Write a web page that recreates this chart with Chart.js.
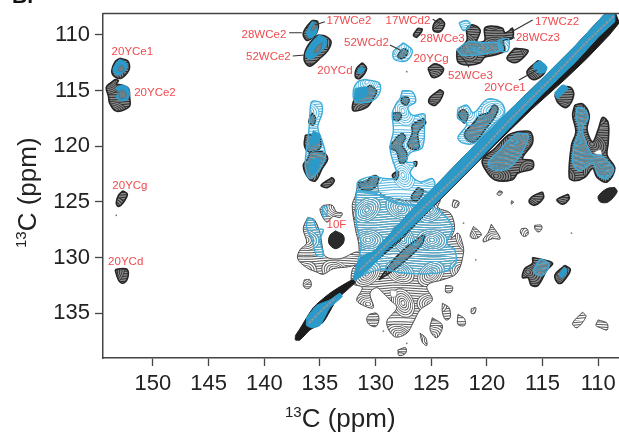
<!DOCTYPE html>
<html>
<head>
<meta charset="utf-8">
<title>13C-13C spectrum</title>
<script src="https://cdn.jsdelivr.net/npm/chart.js@4/dist/chart.umd.js"></script>
<style>
  html, body { margin: 0; padding: 0; background: #fff; overflow: hidden; }
  canvas { display: block; }
</style>
</head>
<body>
<!-- 4px wider than the window: Chart.js keeps a margin for the last tick label, the plot must run to the edge -->
<canvas id="spectrumChart" width="623" height="432"></canvas>
<script>
/* ====== DATA (all contour outlines, in ppm: [x, y]) ====== */
const xTicks = [150, 145, 140, 135, 130, 125, 120, 115, 110];
const yTicks = [110, 115, 120, 125, 130, 135];

const peakLabels = ['20YCe1', '20YCe2', '20YCg', '20YCd', '28WCe2', '52WCe2', '17WCe2', '20YCd', '17WCd2',
  '52WCd2', '20YCg', '28WCe3', '52WCe3', '20YCe1', '17WCz2', '28WCz3', '10F'];
const labelX = [151.85, 149.82, 152.07, 152.45, 140.03, 139.63, 132.39, 133.65, 127.09,
  130.82, 125.02, 124.0, 121.48, 118.38, 113.7, 115.41, 133.52];
const labelY = [111.53, 115.22, 123.57, 130.4, 110.0, 111.98, 108.75, 113.24, 108.75,
  110.72, 112.16, 110.36, 113.66, 114.77, 108.84, 110.27, 127.08];

const leaders = [
  [[137.76, 109.8], [136.62, 109.8]],
  [[137.45, 111.89], [136.35, 111.8]],
  [[134.55, 108.81], [135.45, 109.1]],
  [[128.71, 110.9], [127.81, 111.35]],
  [[124.87, 108.59], [124.22, 108.95]],
  [[115.89, 108.66], [117.77, 109.71]],
  [[117.48, 110.27], [118.56, 110.18]],
  [[121.61, 112.88], [122.24, 111.98]],
  [[117.12, 114.05], [115.5, 113.15]]
];

// grey contour areas, drawn first
const centralMass = [[131.6,123.3],[130.0,122.9],[129.6,124.2],[127.8,124.8],[126.3,124.8],[125.7,124.0],[125.1,124.3],[124.2,124.8],[124.4,125.5],[123.3,126.0],[122.9,127.3],[123.2,128.3],[122.6,127.8],[122.2,128.7],[122.1,129.6],[122.7,131.4],[124.0,132.0],[125.1,132.3],[125.4,132.7],[124.9,133.8],[126.0,134.7],[126.6,135.8],[127.2,136.8],[128.3,137.1],[129.0,135.8],[128.1,134.5],[128.7,133.8],[129.3,133.2],[129.9,132.7],[130.5,133.2],[130.2,134.5],[131.1,134.3],[131.7,133.8],[131.2,132.7],[132.1,132.3],[132.1,131.1],[131.6,130.4],[131.5,128.9],[131.8,127.5],[132.1,125.3],[131.8,124.4]];
const leftArm = [[136.1,126.4],[135.5,126.6],[135.0,127.8],[134.8,128.9],[134.5,129.9],[133.2,130.1],[131.6,129.5],[131.4,130.4],[132.3,130.8],[133.8,131.0],[134.7,131.5],[135.3,131.3],[136.2,130.9],[137.0,130.1],[136.8,129.3],[136.2,128.7],[136.5,127.4]];
const greyPeaks = [
  centralMass, leftArm,
  [[134.7,125.3],[133.9,125.3],[133.5,125.9],[133.0,126.0],[133.2,126.4],[133.8,126.3],[134.4,126.8],[135.0,125.7]],
  [[136.4,132.0],[135.9,132.0],[135.8,132.6],[136.2,132.8],[136.5,132.5]],
  [[130.6,135.1],[129.9,135.0],[129.7,135.6],[130.0,136.2],[130.6,136.0],[130.8,135.5]],
  [[124.0,134.1],[123.4,134.5],[123.3,135.4],[123.7,135.6],[124.0,134.9]],
  [[124.9,135.4],[124.0,136.1],[124.5,137.2],[125.1,136.5]],
  [[126.0,136.8],[125.5,137.2],[125.4,137.9],[125.8,137.6]],
  [[128.0,138.3],[127.3,138.1],[127.3,138.6],[127.9,138.8]],
  [[122.6,135.1],[122.0,135.5],[122.0,136.1],[122.6,136.0]],
  [[121.4,134.6],[121.0,134.5],[121.1,135.0],[121.4,135.0]],
  [[123.7,132.5],[123.1,132.6],[123.2,133.1],[123.7,133.1]],
  [[123.0,124.8],[122.5,125.0],[122.7,125.5],[123.1,125.4]],
  [[121.2,127.2],[120.5,127.9],[121.0,128.3],[121.5,128.1]],
  [[119.6,127.0],[118.8,128.3],[119.5,128.3],[120.3,128.6],[120.3,128.3],[119.9,127.8]],
  [[116.9,127.4],[116.4,127.4],[116.3,127.9],[116.7,128.1],[117.0,127.7]],
  [[115.7,127.1],[115.1,127.1],[115.1,127.5],[115.4,127.7],[115.7,127.4]],
  [[111.4,134.9],[111.1,135.3],[111.9,136.3],[112.3,135.9]],
  [[110.0,135.6],[109.2,135.9],[109.2,136.5],[109.8,136.3],[110.2,136.1]],
  [[118.9,124.0],[118.6,124.1],[118.8,124.4],[119.1,124.3]],
  [[117.8,124.9],[117.6,125.0],[117.8,125.2]]
];

// dense, nearly black peaks
const blackPeaks = [
  [[153.4,114.0],[153.8,114.3],[154.2,114.7],[154.0,115.5],[153.9,116.1],[153.4,116.8],[152.8,116.8],[152.1,116.4],[152.1,115.6],[152.2,114.8],[152.8,114.5],[153.3,114.4],[153.1,114.1]],
  [[153.0,112.1],[152.3,112.3],[152.1,112.9],[152.3,113.4],[152.9,113.9],[153.5,113.7],[153.7,113.2],[153.4,112.4]],
  [[152.7,124.0],[152.3,124.3],[152.7,125.1],[153.1,125.4],[153.3,125.1],[153.1,124.4]],
  [[153.4,131.1],[153.0,131.0],[152.3,131.1],[152.3,131.9],[152.7,132.3],[153.1,132.0]],
  [[135.7,108.7],[135.2,108.8],[135.3,109.8],[136.1,110.5],[136.5,110.0],[136.3,109.4]],
  [[135.2,110.0],[134.5,110.1],[134.0,110.6],[134.3,111.4],[134.9,112.0],[135.9,112.8],[136.4,112.3],[136.3,111.4],[135.9,110.7]],
  [[131.2,112.5],[130.8,113.0],[131.4,113.9],[131.8,113.8],[131.7,113.0]],
  [[130.5,114.5],[129.9,115.0],[130.2,115.7],[130.8,116.5],[132.0,116.8],[132.0,116.0],[131.6,115.4]],
  [[135.7,117.0],[135.4,117.5],[135.6,118.1],[136.0,117.8]],
  [[136.3,119.0],[135.6,119.0],[135.0,119.3],[135.0,120.2],[136.0,120.5],[136.4,119.9]],
  [[135.9,120.5],[134.8,120.5],[134.3,121.1],[134.8,122.0],[135.4,123.1],[136.0,122.9],[136.5,121.7],[136.1,121.1]],
  [[133.9,122.8],[133.7,123.1],[134.3,123.7],[134.9,123.5]],
  [[126.2,109.4],[125.8,109.5],[126.3,110.2],[126.6,110.0]],
  [[124.2,108.5],[123.8,109.0],[124.2,109.7],[124.8,109.6],[124.7,108.9]],
  [[125.3,113.0],[124.7,112.6],[123.9,113.0],[124.2,113.6],[124.9,113.8]],
  [[124.2,114.9],[123.9,115.2],[124.6,116.3],[125.2,116.1],[125.1,115.6]],
  [[122.7,111.4],[121.8,110.5],[121.8,109.4],[121.2,109.1],[120.6,109.6],[120.9,110.6],[120.2,110.5],[120.2,109.4],[119.6,109.2],[118.6,109.4],[118.4,109.8],[118.1,109.7],[117.7,109.4],[117.7,110.3],[118.5,110.5],[118.4,111.4],[119.3,111.8],[120.2,112.0],[120.6,112.5],[121.8,112.7],[122.6,112.4]],
  [[117.5,111.2],[116.3,111.4],[116.8,112.1],[117.5,112.5],[118.2,112.1]],
  [[115.4,112.3],[114.7,112.9],[115.0,113.6],[115.9,114.0],[116.4,113.3]],
  [[113.9,115.4],[113.4,114.8],[112.5,114.7],[112.2,115.4],[112.8,116.5],[113.6,116.1]],
  [[117.3,118.7],[116.1,118.7],[115.9,119.7],[116.8,121.1],[115.9,121.3],[115.9,122.0],[117.2,122.4],[117.7,123.0],[119.3,123.0],[120.2,122.0],[120.4,121.2],[119.3,120.2],[118.1,119.0]],
  [[112.1,116.3],[111.4,116.2],[110.8,117.2],[111.0,118.5],[110.5,119.6],[110.0,118.5],[109.6,117.4],[109.1,117.9],[109.1,119.7],[109.2,120.8],[108.5,122.0],[109.2,123.2],[110.1,122.8],[110.5,122.0],[111.2,122.8],[112.1,123.1],[112.6,122.8],[112.4,119.9],[112.0,118.7],[112.3,117.2]],
  [[115.0,124.1],[114.9,124.6],[115.7,125.3],[116.2,125.0],[115.9,124.5]],
  [[112.7,124.3],[112.6,124.7],[113.2,125.2],[113.7,124.8]],
  [[115.9,130.0],[115.3,130.1],[114.1,130.5],[114.6,131.1],[115.4,132.5],[116.0,132.5],[116.3,131.8],[116.8,131.8],[116.6,131.0],[115.9,130.5]],
  [[113.0,130.7],[112.5,131.1],[113.2,132.2],[113.6,132.3],[113.9,131.6]],
  [[127.4,111.2],[127.1,111.5],[127.5,112.1],[128.0,112.0],[127.8,111.5]],
  [[127.6,115.6],[127.1,115.6],[127.0,116.0],[127.3,116.3],[127.7,116.0]],
  [[128.4,117.0],[127.8,117.0],[127.7,117.4],[128.1,117.7],[128.4,117.5]],
  [[125.7,117.5],[125.5,117.9],[126.2,118.8],[126.1,120.1],[126.6,120.3],[127.1,119.9],[126.7,118.8],[126.7,118.1]],
  [[127.6,118.8],[127.3,119.2],[127.6,119.9],[127.2,120.6],[127.3,121.4],[127.8,121.5],[128.1,120.5],[128.7,120.1],[128.1,119.2]],
  [[128.0,122.2],[128.0,122.8],[128.2,123.0],[128.5,122.6]],
  [[126.6,121.4],[126.3,121.4],[126.4,121.8]],
  [[130.0,122.6],[129.7,122.9],[130.2,123.8],[131.2,123.9],[131.6,123.3],[130.8,123.2],[130.5,122.8]],
  [[126.2,123.7],[125.7,124.0],[126.3,124.9],[126.8,124.6]],
  [[121.2,117.9],[120.6,117.2],[119.9,117.0],[119.4,116.3],[119.0,116.6],[119.3,117.4],[120.0,118.3],[121.1,119.6],[121.8,119.4],[122.0,118.8]],
  [[122.6,117.0],[122.1,116.7],[121.7,117.2],[122.0,117.9],[122.4,117.5]],
  [[129.7,132.0],[128.2,130.0],[126.5,128.5],[125.6,128.0],[126.0,129.0],[128.2,131.0]]
];

// solid near-black peaks
const solidPeaks = [
  [[108.5,123.7],[108.3,124.1],[109.1,125.0],[109.8,125.0],[110.0,124.5],[109.2,123.8]],
  [[133.6,127.6],[132.9,128.0],[132.9,128.7],[133.6,129.2],[134.2,128.7],[134.1,128.0]]
];

// thin light-blue contours laid over the grey
const centreColumn = [[127.6,115.0],[126.7,115.1],[126.4,116.0],[127.1,116.5],[126.7,117.2],[125.6,117.1],[125.6,117.9],[125.8,120.1],[126.9,120.6],[127.2,121.4],[126.4,121.5],[126.9,122.4],[126.0,123.2],[124.9,122.9],[124.7,123.6],[126.0,125.3],[127.8,125.1],[129.6,124.4],[131.4,124.0],[131.6,123.2],[130.3,122.7],[129.2,122.9],[128.1,122.8],[128.3,121.7],[128.4,121.5],[128.7,120.1],[128.4,118.6],[128.5,117.0],[128.1,116.1],[127.8,115.7]];
const blueMass = [[131.7,124.0],[130.3,124.1],[128.3,125.1],[126.3,125.3],[125.1,125.3],[123.8,126.2],[123.1,127.4],[123.6,128.7],[122.9,129.3],[122.9,130.7],[124.5,131.4],[127.2,131.4],[129.6,131.1],[131.2,131.6],[131.9,132.0],[131.6,130.4],[131.3,128.9],[131.7,127.1],[131.8,125.3]];
const lightPeaks = [
  centreColumn, blueMass,
  [[130.9,114.0],[129.7,114.3],[129.6,115.1],[130.3,115.9],[131.8,116.0],[132.0,115.0],[131.6,114.2]],
  [[135.6,115.9],[134.9,116.1],[134.8,117.0],[135.2,118.3],[134.8,119.5],[134.5,121.0],[135.2,122.3],[135.9,122.9],[136.3,121.9],[136.2,120.1],[136.0,118.6],[135.9,117.0],[135.8,116.1]],
  [[127.5,110.7],[126.7,111.4],[127.2,112.3],[128.3,112.2],[128.4,111.5]],
  [[122.5,108.9],[121.8,108.7],[121.5,109.1],[122.1,109.6]],
  [[119.0,110.5],[118.1,110.3],[118.1,111.4],[118.8,111.4]],
  [[122.6,116.6],[121.8,116.3],[121.2,117.0],[120.0,115.8],[118.8,116.0],[118.4,117.0],[119.5,118.1],[121.1,119.7],[122.2,119.7],[122.6,119.2],[121.8,118.0],[122.6,117.5]],
  [[136.1,126.4],[135.6,126.6],[135.3,127.4],[134.7,127.5],[135.0,128.4],[134.7,129.8],[135.3,129.8],[135.7,128.4],[136.2,127.3]],
  [[134.8,125.5],[134.4,125.4],[134.4,126.2],[134.7,126.3]],
  [[115.2,130.1],[114.4,130.6],[115.0,131.6],[115.8,131.3],[115.6,130.7]],
  [[117.2,118.8],[116.3,119.0],[116.6,120.1],[117.2,121.1],[118.1,122.0],[119.4,122.1],[119.9,121.5],[119.0,120.5],[117.9,119.3]],
  [[111.9,116.5],[111.3,116.6],[110.9,117.5],[111.4,118.3],[111.2,119.4],[110.5,120.8],[109.8,120.8],[109.1,121.4],[108.6,122.1],[109.2,122.9],[110.0,122.6],[110.5,121.5],[111.4,122.1],[111.9,122.1],[112.3,121.4],[112.1,119.7],[111.7,118.5],[112.0,117.4]],
  [[122.7,111.3],[121.6,110.6],[120.5,110.7],[119.0,110.7],[118.6,111.3],[119.7,111.6],[120.9,111.8],[122.3,111.8]]
];

// solid blue where the blue contours run together
const bluePeaks = [
  [[153.0,112.2],[152.5,112.4],[152.3,112.9],[152.6,113.3],[153.0,113.6],[153.4,113.5],[153.6,113.1],[153.3,112.5]],
  [[153.4,114.8],[152.8,114.5],[152.3,114.7],[152.1,115.2],[152.3,115.8],[152.9,115.9],[153.3,115.6],[153.1,115.1]],
  [[135.7,108.8],[135.3,109.0],[135.3,109.8],[135.9,110.3],[136.2,109.8]],
  [[135.1,110.0],[134.5,110.3],[134.4,110.9],[135.0,111.6],[135.9,112.2],[136.3,111.8],[136.0,111.1],[135.6,110.5]],
  [[131.3,112.8],[131.0,113.1],[131.4,113.5],[131.6,113.2]],
  [[131.8,114.8],[130.8,114.7],[130.8,115.4],[131.6,115.9],[131.9,115.6]],
  [[135.9,121.3],[135.0,121.1],[135.2,122.0],[135.6,122.6],[136.0,122.0]],
  [[135.6,118.6],[135.0,119.0],[135.2,119.7],[135.9,119.9]],
  [[115.2,112.3],[114.6,112.9],[114.9,113.4],[115.6,113.3],[115.8,112.7]],
  [[113.9,115.2],[113.2,114.5],[112.7,114.8],[113.1,115.2],[113.7,115.7]],
  [[113.1,130.9],[112.8,131.1],[113.2,131.8],[113.5,131.6]],
  [[132.0,131.9],[131.4,130.1],[129.6,129.3],[129.3,129.6],[130.7,131.1],[131.8,132.0]]
];

// grey middles of the strongest peaks
const corePeaks = [
  [[152.8,112.7],[152.6,113.1],[153.0,113.3],[153.1,113.0]],
  [[153.1,115.1],[152.6,115.0],[152.4,115.5],[152.9,115.7]],
  [[135.4,108.9],[135.2,109.0],[135.6,109.6],[135.8,109.5]],
  [[134.8,110.7],[135.0,111.4],[135.5,111.6],[135.3,111.1]]
];

const diagonalBlack = [[108.5,107.9],[109.5,108.2],[112,110.9],[115,113.9],[118,116.8],[121,119.8],[124,122.9],[126,124.9],[128,127.1],[130,129.3],[131.5,131.0],[131.5,131.6],[128,128.7],[125,125.6],[122,122.6],[119,119.6],[116,116.7],[113,114.0],[111,112.1],[109,110.0],[108.1,108.9]];
const diagonalBlue = [[108.5,107.9],[109.5,108.2],[112,110.9],[115,113.9],[118,116.8],[121,119.8],[124,122.9],[126,124.9],[128,127.1],[130,129.3],[131.5,131.0],[131.5,131.3],[130,130.1],[128,128.4],[126,126.5],[124,124.5],[121,121.5],[118,118.4],[115,115.3],[112,112.4],[110,110.2],[108.5,108.8]];
const diagonalCentre = [[108.6,108.3],[111,110.6],[114,113.7],[118,117.7],[122,122.0],[126,125.8],[130,129.8],[131.5,131.2]];
const spindleBlack = [[137.2,137.0],[136.8,136.4],[135.6,134.5],[134.1,133.2],[132.1,132.0],[131.8,132.2],[133.5,133.8],[134.7,135.8],[135.9,136.5],[136.8,137.4],[137.2,137.4]];
const spindleBlue = [[136.2,135.4],[135.3,134.3],[134.1,133.8],[133.2,133.2],[133.0,133.5],[134.1,134.5],[135.0,136.1],[135.7,136.3],[136.2,136.1]];
const spindleCentre = [[136.0,135.9],[134.7,134.6],[133.6,133.6]];

const holes = [
  [[128.7,132.9],[128.1,133.0],[128.2,133.5],[128.6,133.5]]
];
const blackHoles = [
  [[110.5,120.6],[109.8,120.3],[109.7,120.8]]
];
const specks = [[153.3,126.2],[127.2,113.3],[121.0,130.2],[122.1,126.9],[112.4,127.8],[127.2,137.7],[129.3,136.6]];

/* ====== STYLE HELPERS ====== */

// tile of wavy lines and small whorls, stands in for the tightly packed contour lines
function makeHatch(line, back, gap, width) {
  const tile = document.createElement('canvas');
  tile.width = 64;
  tile.height = 64;
  const g = tile.getContext('2d');
  if (back) {
    g.fillStyle = back;
    g.fillRect(0, 0, 64, 64);
  }
  g.strokeStyle = line;
  g.lineWidth = width;
  for (let y = 0; y < 64; y += gap) {
    g.beginPath();
    g.moveTo(0, y);
    g.bezierCurveTo(22, y - 3, 42, y + 3, 64, y);
    g.stroke();
  }
  [[16, 16, 0.5], [47, 18, -0.7], [19, 47, 1.1], [48, 48, 0.1]].forEach(w => {
    g.save();
    g.translate(w[0], w[1]);
    g.rotate(w[2]);
    g.scale(1, 0.7);
    g.beginPath();
    g.arc(0, 0, 15, 0, Math.PI * 2);
    if (back) {
      g.fillStyle = back;
      g.fill();
    } else {
      g.globalCompositeOperation = 'destination-out';
      g.fill();
      g.globalCompositeOperation = 'source-over';
    }
    for (let r = gap; r <= 15; r += gap) {
      g.beginPath();
      g.arc(0, 0, r, 0, Math.PI * 2);
      g.stroke();
    }
    g.restore();
  });
  return g.createPattern(tile, 'repeat');
}

function toPoints(pairs) {
  return pairs.map(p => ({ x: p[0], y: p[1] }));
}

function shapeDataset(pairs, style) {
  return Object.assign({
    data: toPoints(pairs.concat([pairs[0]])),
    showLine: true,
    fill: 'shape',
    pointRadius: 0,
    tension: 0.35
  }, style);
}

const greyStyle = { backgroundColor: makeHatch('#555', '#ffffff', 2.5, 1), borderColor: '#4a4a4a', borderWidth: 1 };
const blackStyle = { backgroundColor: makeHatch('#2a2a2a', '#8c8c8c', 2.5, 1), borderColor: '#262626', borderWidth: 1.6 };
const lightStyle = { backgroundColor: makeHatch('#4fb4de', null, 2.5, 1), borderColor: '#3fabd9', borderWidth: 1.4 };
const blueStyle = { backgroundColor: '#2b9ac9', borderColor: '#2b9ac9', borderWidth: 1 };
const coreStyle = { backgroundColor: '#6f7f88', borderColor: '#5b6a73', borderWidth: 0.8 };
const solidStyle = { backgroundColor: '#2a2a2a', borderColor: '#222', borderWidth: 1 };

/* ====== DATASETS, listed in paint order ====== */
const paintOrder = [];
greyPeaks.forEach(s => paintOrder.push(shapeDataset(s, greyStyle)));
holes.forEach(s => paintOrder.push(shapeDataset(s, { backgroundColor: '#fff', borderColor: '#555', borderWidth: 0.6 })));
blackPeaks.forEach(s => paintOrder.push(shapeDataset(s, blackStyle)));
solidPeaks.forEach(s => paintOrder.push(shapeDataset(s, solidStyle)));
blackHoles.forEach(s => paintOrder.push(shapeDataset(s, { backgroundColor: '#fff', borderColor: '#555', borderWidth: 0.6 })));
paintOrder.push(shapeDataset(spindleBlack, { backgroundColor: '#1c1c1c', borderColor: '#1c1c1c', borderWidth: 1, tension: 0.2 }));
paintOrder.push(shapeDataset(diagonalBlack, { backgroundColor: '#1c1c1c', borderColor: '#1c1c1c', borderWidth: 1, tension: 0 }));
lightPeaks.forEach(s => paintOrder.push(shapeDataset(s, lightStyle)));
bluePeaks.forEach(s => paintOrder.push(shapeDataset(s, blueStyle)));
paintOrder.push(shapeDataset(spindleBlue, Object.assign({}, blueStyle, { tension: 0.2 })));
paintOrder.push(shapeDataset(diagonalBlue, Object.assign({}, blueStyle, { tension: 0 })));
corePeaks.forEach(s => paintOrder.push(shapeDataset(s, coreStyle)));
[diagonalCentre, spindleCentre].forEach(s => paintOrder.push({
  data: toPoints(s), showLine: true, fill: false, pointRadius: 0,
  borderColor: '#8a979f', borderWidth: 2, borderDash: [3, 1]
}));
leaders.forEach(s => paintOrder.push({
  data: toPoints(s), showLine: true, fill: false, pointRadius: 0,
  borderColor: '#333', borderWidth: 1.2
}));
paintOrder.push({ data: toPoints(specks), pointRadius: 0.9, backgroundColor: '#777', borderWidth: 0 });

/* ====== TEXT AND FRAME ====== */
const spectrumText = {
  id: 'spectrumText',
  afterDatasetsDraw(chart) {
    const { ctx, chartArea, scales } = chart;
    ctx.save();

    // frame line along the top, left and bottom come from the scales
    ctx.strokeStyle = '#444';
    ctx.lineWidth = 1.5;
    ctx.beginPath();
    ctx.moveTo(chartArea.left, chartArea.top);
    ctx.lineTo(chartArea.right, chartArea.top);
    ctx.stroke();

    // peak assignments
    ctx.fillStyle = '#ee4b4f';
    ctx.font = '11.5px "Liberation Sans"';
    ctx.textAlign = 'center';
    ctx.textBaseline = 'middle';
    peakLabels.forEach((t, i) => {
      ctx.fillText(t, scales.x.getPixelForValue(labelX[i]), scales.y.getPixelForValue(labelY[i]));
    });

    // panel letter, cut off by the top edge in the original
    ctx.fillStyle = '#111';
    ctx.font = 'bold 21px "Liberation Sans"';
    ctx.textAlign = 'left';
    ctx.textBaseline = 'alphabetic';
    ctx.fillText('B.', 12, 3);

    // axis titles with a raised 13
    drawAxisTitle(ctx, 285, 427);
    ctx.save();
    ctx.translate(36, 248);
    ctx.rotate(-Math.PI / 2);
    drawAxisTitle(ctx, 0, 0);
    ctx.restore();
    ctx.restore();
  }
};

function drawAxisTitle(ctx, x, y) {
  ctx.fillStyle = '#222';
  ctx.textAlign = 'left';
  ctx.textBaseline = 'alphabetic';
  ctx.font = '15px "Liberation Sans"';
  ctx.fillText('13', x, y - 10);
  const w = ctx.measureText('13').width;
  ctx.font = '26px "Liberation Sans"';
  ctx.fillText('C (ppm)', x + w, y);
}

/* ====== CHART ====== */
function axisOptions(tickValues, fixSize) {
  return {
    type: 'linear',
    reverse: true,
    grid: { drawOnChartArea: false, color: '#444', tickColor: '#444', tickLength: 8, tickWidth: 1.3 },
    border: { display: true, color: '#444', width: 1.5 },
    ticks: {
      color: '#222',
      padding: 5,
      maxRotation: 0,
      autoSkip: false,
      font: { family: '"Liberation Sans"', size: 22 }
    },
    afterBuildTicks: scale => { scale.ticks = tickValues.map(v => ({ value: v })); },
    afterFit: fixSize
  };
}

const xAxis = axisOptions(xTicks, s => { s.height = 74; s.paddingLeft = 0; s.paddingRight = 0; });
xAxis.min = 108.13;
xAxis.max = 154.49;
const yAxis = axisOptions(yTicks, s => { s.width = 103; s.paddingTop = 0; s.paddingBottom = 0; });
yAxis.min = 108.07;
yAxis.max = 139.02;

new Chart(document.getElementById('spectrumChart').getContext('2d'), {
  type: 'scatter',
  data: { datasets: paintOrder.slice().reverse() },   // Chart.js paints the first dataset last
  options: {
    responsive: false,
    animation: false,
    layout: { padding: { top: 13.5, left: 0, right: 0, bottom: 0 } },
    plugins: { legend: { display: false }, tooltip: { enabled: false } },
    scales: { x: xAxis, y: yAxis }
  },
  plugins: [spectrumText]
});
</script>
</body>
</html>
